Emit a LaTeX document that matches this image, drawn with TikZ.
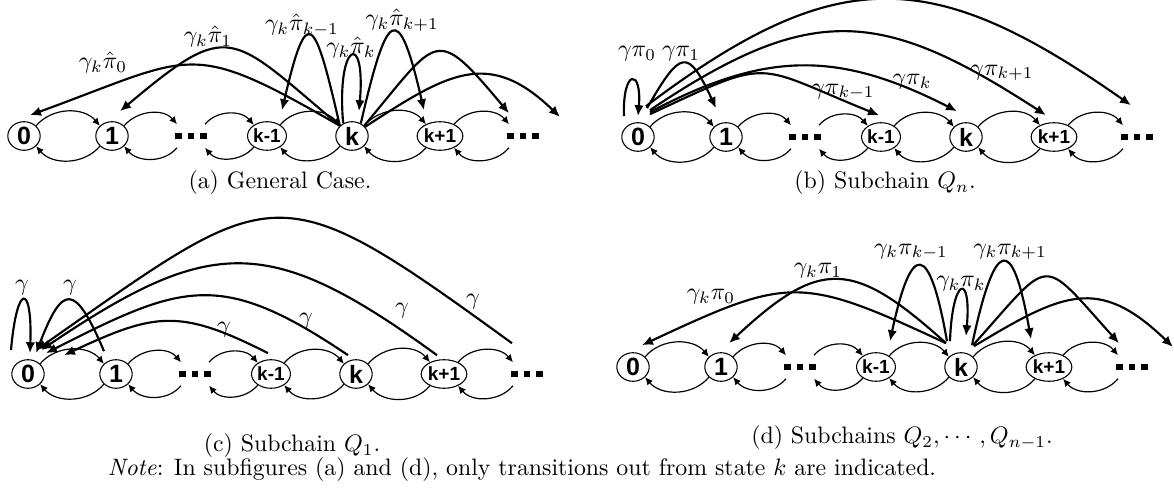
\documentclass[tikz,border=0pt]{standalone}
\usepackage{amsmath}
\usepackage{amssymb}
\usepackage{fontspec}
\setsansfont{Liberation Sans}
\usetikzlibrary{arrows.meta,shapes.geometric}
\newcommand{\threesq}{\rule{2.9pt}{2.9pt}\hspace{2.4pt}\rule{2.9pt}{2.9pt}\hspace{2.4pt}\rule{2.9pt}{2.9pt}}

\begin{document}
\begin{tikzpicture}
  [x=0.42pt,y=0.42pt,
   state/.style={ellipse,draw,line width=0.45pt,minimum width=13.6pt,minimum height=12pt,
     inner sep=0pt,font=\sffamily\bfseries\fontsize{10.5}{10.5}\selectfont},
   more/.style={ellipse,minimum width=13.6pt,minimum height=12pt,inner sep=0pt},
   hop/.style={-{Latex[length=3.2pt,width=3pt]},line width=0.5pt},
   jump/.style={-{Latex[length=4.6pt,width=4pt]},line width=0.9pt},
   lbl/.style={inner sep=0pt}]
  \useasboundingbox (0,0) rectangle (1174,-489);
  % the four chains 0, 1, ..., k-1, k, k+1, ...
  \foreach \p/\dx/\y in {a/0/136, b/614/137, c/4/374, d/609/367} {
    \foreach \n/\x/\t in {0/24/0, 1/112/1, 3/267/{\fontsize{8}{8}\selectfont k-1}, 4/352/k, 5/440/{\fontsize{8}{8}\selectfont k+1}}
      \node[state] (\p\n) at ({\x+\dx},-\y) {\t};
    \foreach \n/\x in {2/191, 6/523}
      \node[more] (\p\n) at ({\x+\dx},-\y) {\threesq};
    \foreach \i/\j in {0/1, 1/2, 2/3, 3/4, 4/5, 5/6} {
      \draw[hop] (\p\i.40) to[out=50,in=130] (\p\j.140);
      \draw[hop] (\p\j.-140) to[out=-130,in=-50] (\p\i.-40);
    }
  }

  % (a) general case
  \coordinate (aend) at (560,-117);
  \draw[jump] (a4.140) to[out=150,in=20,looseness=1.45] ([shift={(6,6)}]a0.north);
  \draw[jump] (a4.140) to[out=140,in=40,looseness=1.68] ([shift={(8,10)}]a1.north);
  \draw[jump] (a4.140) to[out=103,in=77,looseness=4.8] ([shift={(15,11)}]a3.north);
  \draw[jump] (a4.125) to[out=95,in=85,looseness=10.5] ([shift={(7,10)}]a4.north);
  \draw[jump] (a4.55) to[out=77,in=103,looseness=4.6] ([shift={(-16,11)}]a5.north);
  \draw[jump] (a4.40) to[out=50,in=130,looseness=2.06] ([shift={(-14,8)}]a6.north);
  \draw[jump] (a4.35) to[out=33,in=136,looseness=1.3] (aend);
  \node[lbl] (la0) at (103,-63) {$\gamma_k\hat{\pi}_0$};
  \node[lbl] (la1) at (208,-37) {$\gamma_k\hat{\pi}_1$};
  \node[lbl] (la3) at (302,-25) {$\gamma_k\hat{\pi}_{k-1}$};
  \node[lbl] (la4) at (351,-48) {$\gamma_k\hat{\pi}_k$};
  \node[lbl] (la5) at (402,-20) {$\gamma_k\hat{\pi}_{k+1}$};

  % (b) subchain Q_n
  \draw[jump] ([shift={(-14,6)}]b0.north) to[out=92,in=85,looseness=8.8] ([shift={(0,6)}]b0.north);
  \draw[jump] ([shift={(9,14)}]b0.north) to[out=60,in=115,looseness=2.5] ([shift={(-10,14)}]b1.north);
  \draw[jump] ([shift={(12,8)}]b0.north) to[out=25,in=158,looseness=1.53] ([shift={(-2,7)}]b3.north);
  \draw[jump] ([shift={(12,10)}]b0.north) to[out=28,in=153,looseness=1.1] ([shift={(-9,11)}]b4.north);
  \draw[jump] ([shift={(12,12)}]b0.north) to[out=34,in=147,looseness=1.26] ([shift={(-8,7)}]b5.north);
  \draw[jump] ([shift={(8,16)}]b0.north) to[out=37,in=145,looseness=1.27] ([shift={(-6,17)}]b6.north);
  \node[lbl] (lb0) at (637,-54) {$\gamma\pi_0$};
  \node[lbl] (lb1) at (681,-54) {$\gamma\pi_1$};
  \node[lbl] (lb3) at (843,-92) {$\gamma\pi_{k-1}$};
  \node[lbl] (lb4) at (912,-82) {$\gamma\pi_k$};
  \node[lbl] (lb5) at (1002,-73) {$\gamma\pi_{k+1}$};

  % (c) subchain Q_1
  \draw[jump] ([shift={(-17,9)}]c0.north) to[out=85,in=88,looseness=9.2] ([shift={(2,6)}]c0.north);
  \draw[jump] ([shift={(-12,8)}]c1.north) to[out=113,in=69,looseness=2.8] ([shift={(8,6)}]c0.north);
  \draw[jump] ([shift={(-3,6)}]c3.north) to[out=153,in=25,looseness=1.25] ([shift={(36,4)}]c0.north);
  \draw[jump] ([shift={(-8,4)}]c4.north) to[out=146,in=27,looseness=1.3] ([shift={(18,6)}]c0.north);
  \draw[jump] ([shift={(-7,4)}]c5.north) to[out=144,in=34,looseness=1.33] ([shift={(13,9)}]c0.north);
  \draw[jump] ([shift={(-15,16)}]c6.north) to[out=144,in=35,looseness=1.58] ([shift={(8,9)}]c0.north);
  \node[lbl] (lc0) at (22,-288) {$\gamma$};
  \node[lbl] (lc1) at (70,-288) {$\gamma$};
  \node[lbl] (lc3) at (224,-330) {$\gamma$};
  \node[lbl] (lc4) at (306,-321) {$\gamma$};
  \node[lbl] (lc5) at (402,-311) {$\gamma$};
  \node[lbl] (lc6) at (473,-302) {$\gamma$};

  % (d) subchains Q_2,...,Q_{n-1}
  \coordinate (dend) at (1173,-347);
  \draw[jump] ([shift={(-15,9)}]d4.north) to[out=155,in=25,looseness=1.36] ([shift={(9,7)}]d0.north);
  \draw[jump] ([shift={(-15,9)}]d4.north) to[out=138,in=43,looseness=1.48] ([shift={(8,9)}]d1.north);
  \draw[jump] ([shift={(-14,11)}]d4.north) to[out=100,in=78,looseness=4.6] ([shift={(14,11)}]d3.north);
  \draw[jump] ([shift={(-11,11)}]d4.north) to[out=88,in=85,looseness=9.9] ([shift={(5,16)}]d4.north);
  \draw[jump] ([shift={(11,7)}]d4.north) to[out=78,in=100,looseness=4.7] ([shift={(-18,13)}]d5.north);
  \draw[jump] ([shift={(12,7)}]d4.north) to[out=48,in=132,looseness=2.1] ([shift={(-13,9)}]d6.north);
  \draw[jump] ([shift={(13,6)}]d4.north) to[out=31,in=136,looseness=1.33] (dend);
  \node[lbl] (ld0) at (711,-297) {$\gamma_k\pi_0$};
  \node[lbl] (ld1) at (818,-271) {$\gamma_k\pi_1$};
  \node[lbl] (ld3) at (911,-252) {$\gamma_k\pi_{k-1}$};
  \node[lbl] (ld4) at (961,-284) {$\gamma_k\pi_k$};
  \node[lbl] (ld5) at (1010,-252) {$\gamma_k\pi_{k+1}$};

  % captions
  \node (capa) at (280,-183) {(a) General Case.};
  \node (capb) at (885,-183) {(b) Subchain $Q_n$.};
  \node (capc) at (292,-446) {(c) Subchain $Q_1$.};
  \node (capd) at (902,-438) {(d) Subchains $Q_2,\cdots,Q_{n-1}$.};
  \node (note) at (522,-470) {\textit{Note}: In subfigures (a) and (d), only transitions out from state $k$ are indicated.};
\end{tikzpicture}
\end{document}
